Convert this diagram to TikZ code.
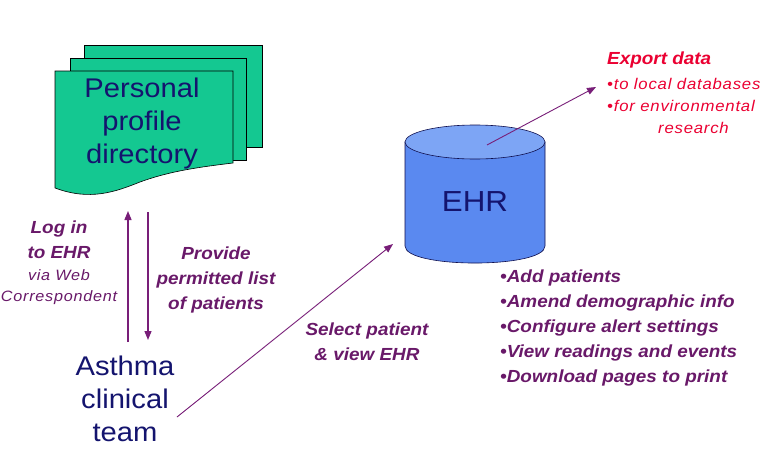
\documentclass[tikz,border=0pt]{standalone}
\usepackage{fontspec}
\setmainfont[FakeStretch=1.08]{Liberation Sans}
\newfontfamily\spacedsans[FakeStretch=1.08,LetterSpace=5]{Liberation Sans}
\usetikzlibrary{arrows.meta}
\definecolor{navy}{RGB}{20,20,110}
\definecolor{purp}{RGB}{105,25,105}
\definecolor{arrowpurp}{RGB}{120,30,120}
\definecolor{expred}{RGB}{235,0,50}
\definecolor{docgreen}{RGB}{20,200,145}
\definecolor{cylblue}{RGB}{90,137,240}
\definecolor{cyltop}{RGB}{125,165,245}
\tikzset{
  bigtext/.style={text=navy, font=\fontsize{27}{33}\selectfont, align=center, inner sep=0pt},
  labtext/.style={text=purp, font=\fontsize{17.5}{25}\selectfont\bfseries\itshape, align=center, inner sep=0pt},
  flow/.style={draw=arrowpurp, line width=1.4pt, -{Triangle[length=9pt,width=7pt]}},
  thinflow/.style={draw=arrowpurp, line width=0.9pt, -{Triangle[length=9pt,width=7pt]}},
  page/.style={fill=docgreen, draw=black, line width=0.6pt},
}
\begin{document}
\begin{tikzpicture}[x=1pt,y=-1pt]
\useasboundingbox[fill=white] (0,0) rectangle (764,466);

% stacked document pages
\path[page] (84,45) rectangle (262,147);
\path[page] (70,58) rectangle (246,160);
\path[page] (55,71) -- (233,71) -- (233,163)
  .. controls (200,167) and (170,171) .. (140,182)
  .. controls (115,192) and (90,201) .. (55,188) -- cycle;
\node[bigtext] (dir) at (142,124) {Personal\\profile\\directory};

% EHR cylinder
\path[fill=cylblue, draw=navy!70!black, line width=0.6pt]
  (405,142) -- (405,246) .. controls (405,268.7) and (545,268.7) .. (545,246) -- (545,142) -- cycle;
\path[fill=cyltop, draw=navy!70!black, line width=0.6pt] (475,142) ellipse [x radius=70, y radius=17];
\node[text=navy, font=\fontsize{29}{33}\selectfont, inner sep=0pt] (ehr) at (475,202) {EHR};

% team
\node[bigtext] (team) at (125,399) {Asthma\\clinical\\team};

% export text
\node[anchor=west, text=expred, font=\fontsize{17.5}{22}\selectfont\bfseries\itshape, inner sep=0pt] (exp) at (607,60) {Export data};
\node[anchor=north west, text=expred, font=\spacedsans\fontsize{15.5}{22}\selectfont\itshape, align=left, inner sep=0pt] (explist) at (607,78)
  {•to local databases\\•for environmental\\\hspace*{51pt}research};

% login labels
\node[labtext] (login) at (59,240) {Log in\\to EHR};
\node[text=purp, font=\spacedsans\fontsize{15}{21}\selectfont\itshape, align=center, inner sep=0pt] (via) at (59,287) {via Web\\Correspondent};
\node[labtext] (provide) at (216,280) {Provide\\permitted list\\of patients};
\node[labtext] (select) at (367,342) {Select patient\\\& view EHR};

% activities list
\node[labtext, align=left, anchor=west] (acts) at (500,328)
  {•Add patients\\•Amend demographic info\\•Configure alert settings\\•View readings and events\\•Download pages to print};

% connectors
\coordinate (loginS) at (128,342);
\coordinate (loginE) at (128,211);
\coordinate (provS) at (148,212);
\coordinate (provE) at (148,340);
\draw[flow] (loginS) -- (loginE);
\draw[flow] (provS) -- (provE);
\coordinate (selS) at (177,417);
\coordinate (selE) at (393,244);
\draw[thinflow] (selS) -- (selE);
\coordinate (expS) at (487,145);
\coordinate (expE) at (596,87);
\draw[thinflow] (expS) -- (expE);
\end{tikzpicture}
\end{document}
